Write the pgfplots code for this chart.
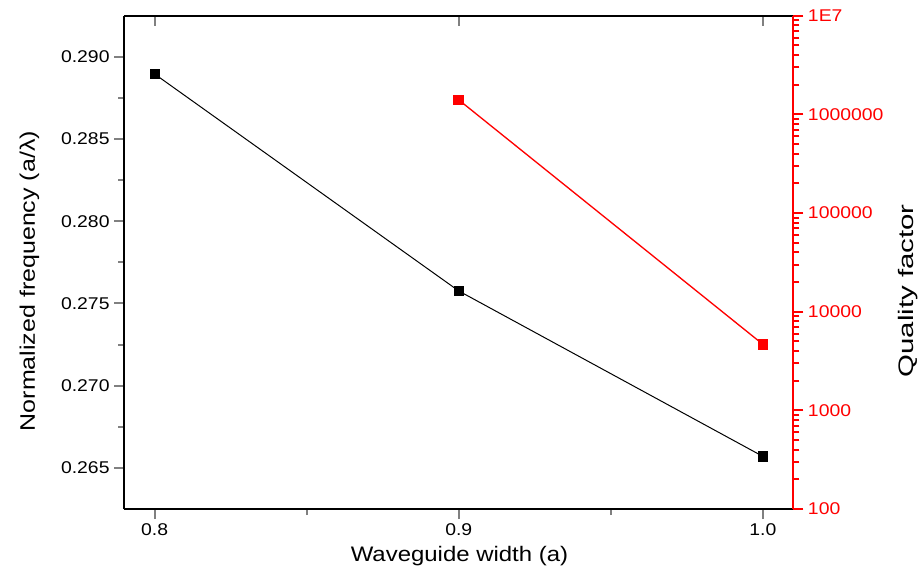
\documentclass[border=0pt]{standalone}
\usepackage{pgfplots}
\pgfplotsset{compat=1.18}
\usepackage{fontspec}
\usepackage{graphicx}
\setmainfont{Liberation Sans}
\newfontfamily\tickfont[FakeStretch=1.14]{Liberation Sans}
\pgfplotsset{
  every axis/.append style={
    width=501.75pt, height=370pt, scale only axis,
    at={(0,0)}, anchor=south west,
    xmin=0.79, xmax=1.01,
    axis line style={line width=1.5pt},
    tick style={line width=1.5pt},
    major tick length=7.5pt, minor tick length=4.5pt,
    /pgf/number format/assume math mode=true,
    tick label style={font=\tickfont\fontsize{12.75pt}{14pt}\selectfont},
    label style={font=\fontsize{15.75pt}{18pt}\selectfont, inner sep=0pt},
  }
}
\begin{document}
\begin{tikzpicture}
\path[use as bounding box] (-93.2pt,-50.25pt) rectangle (599.8pt,381.75pt);
% left axis + bottom axis
\begin{axis}[
  axis x line*=bottom, axis y line*=left,
  tick align=outside,
  xtick={0.8,0.9,1.0}, xticklabels={0.8,0.9,1.0}, minor x tick num=1,
  ymin=0.2625, ymax=0.2925,
  ytick={0.265,0.270,0.275,0.280,0.285,0.290},
  yticklabels={0.265,0.270,0.275,0.280,0.285,0.290},
  minor y tick num=1,
  xlabel={\scalebox{1.14}[1]{Waveguide width (a)}},
  xlabel style={at={(axis description cs:0.501,-0.1054)}, anchor=base},
  ylabel={\scalebox{1.19}[1]{Normalized frequency (a/λ)}},
  ylabel style={at={(axis description cs:-0.1335,0.462)}, anchor=base, rotate=0},
]
\addplot[black, line width=0.75pt, mark=square*, mark size=3.5pt]
  coordinates {(0.8,0.28895) (0.9,0.27576) (1.0,0.2657)};
\end{axis}
% top axis (inward ticks)
\begin{axis}[
  axis x line*=top, axis y line=none,
  tick align=inside,
  xtick={0.8,0.9,1.0}, xticklabels={},
  ymin=0, ymax=1,
]
\end{axis}
% right log axis
\begin{axis}[
  axis x line=none, axis y line*=right,
  ymode=log, ymin=100, ymax=1e7,
  tick align=outside,
  ytick={100,1000,10000,100000,1000000,10000000},
  yticklabels={100,1000,10000,100000,1000000,1E7},
  axis line style={red, line width=1.5pt},
  tick style={red, line width=1.5pt},
  yticklabel style={text=red},
  ylabel={\scalebox{1.4}[1]{Quality factor}},
  ylabel style={at={(axis description cs:1.179,0.442)}, anchor=base, rotate=0},
]
\addplot[red, line width=1pt, mark=square*, mark size=3.5pt]
  coordinates {(0.9,1.40e6) (1.0,4670)};
\end{axis}
\end{tikzpicture}
\end{document}
